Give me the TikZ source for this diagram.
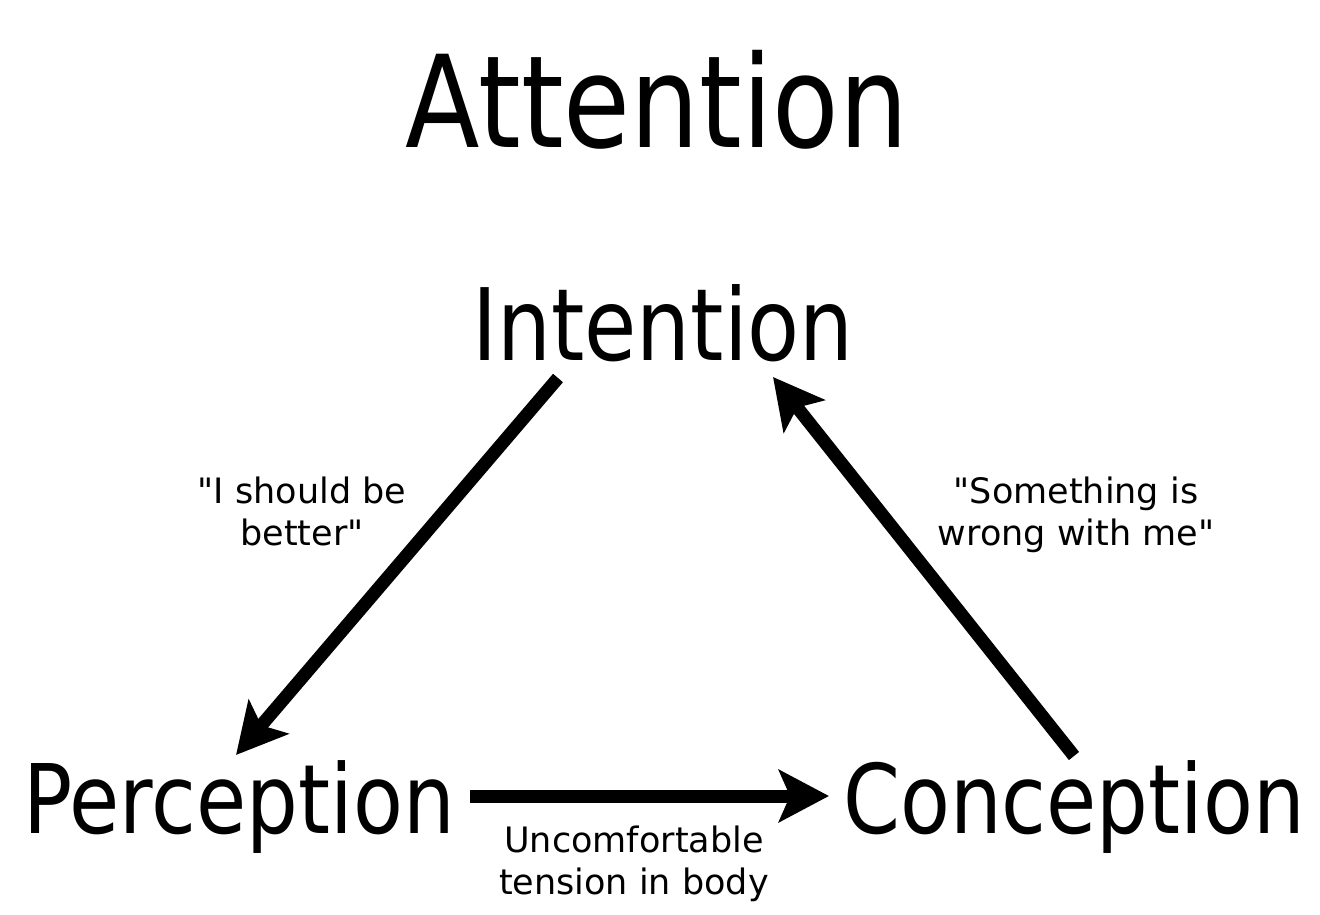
\documentclass[tikz,border=0pt]{standalone}
\usepackage{fontspec}
\usetikzlibrary{arrows.meta}
\newfontfamily\tahomalike[FakeStretch=0.85]{DejaVu Sans}
\newfontfamily\labfont{DejaVu Sans}
\begin{document}
\begin{tikzpicture}[x=1pt,y=-1pt,
  bigtext/.style={anchor=base, inner sep=0pt, font=\tahomalike\fontsize{96}{115}\selectfont},
  titletext/.style={anchor=base, inner sep=0pt, font=\tahomalike\fontsize{128}{150}\selectfont},
  labtext/.style={anchor=base, inner sep=0pt, align=center, font=\labfont\fontsize{35}{42}\selectfont},
  conn/.style={line width=13pt, -{Stealth[length=50pt,width=52pt,inset=11pt]}}]
\useasboundingbox (0,0) rectangle (1320,915);
\node[titletext] (title) at (657,147) {Attention};
\node[bigtext, font=\tahomalike\fontsize{100}{120}\selectfont] (intention) at (663,360) {Intention};
\node[bigtext] (perception) at (239,833) {Perception};
\node[bigtext] (conception) at (1074,833) {Conception};
\coordinate (a1s) at (558,378);
\coordinate (a1e) at (236,755);
\coordinate (a2s) at (470,796);
\coordinate (a2e) at (829,796);
\coordinate (a3s) at (1074,756);
\coordinate (a3e) at (773,377);
\draw[conn] (a1s) -- (a1e);
\draw[conn] (a2s) -- (a2e);
\draw[conn] (a3s) -- (a3e);
\node[labtext] (l1) at (302,545) {"I should be\\better"};
\node[labtext] (l2) at (1076,545) {"Something is\\wrong with me"};
\node[labtext] (l3) at (634,894) {Uncomfortable\\tension in body};
\end{tikzpicture}
\end{document}
